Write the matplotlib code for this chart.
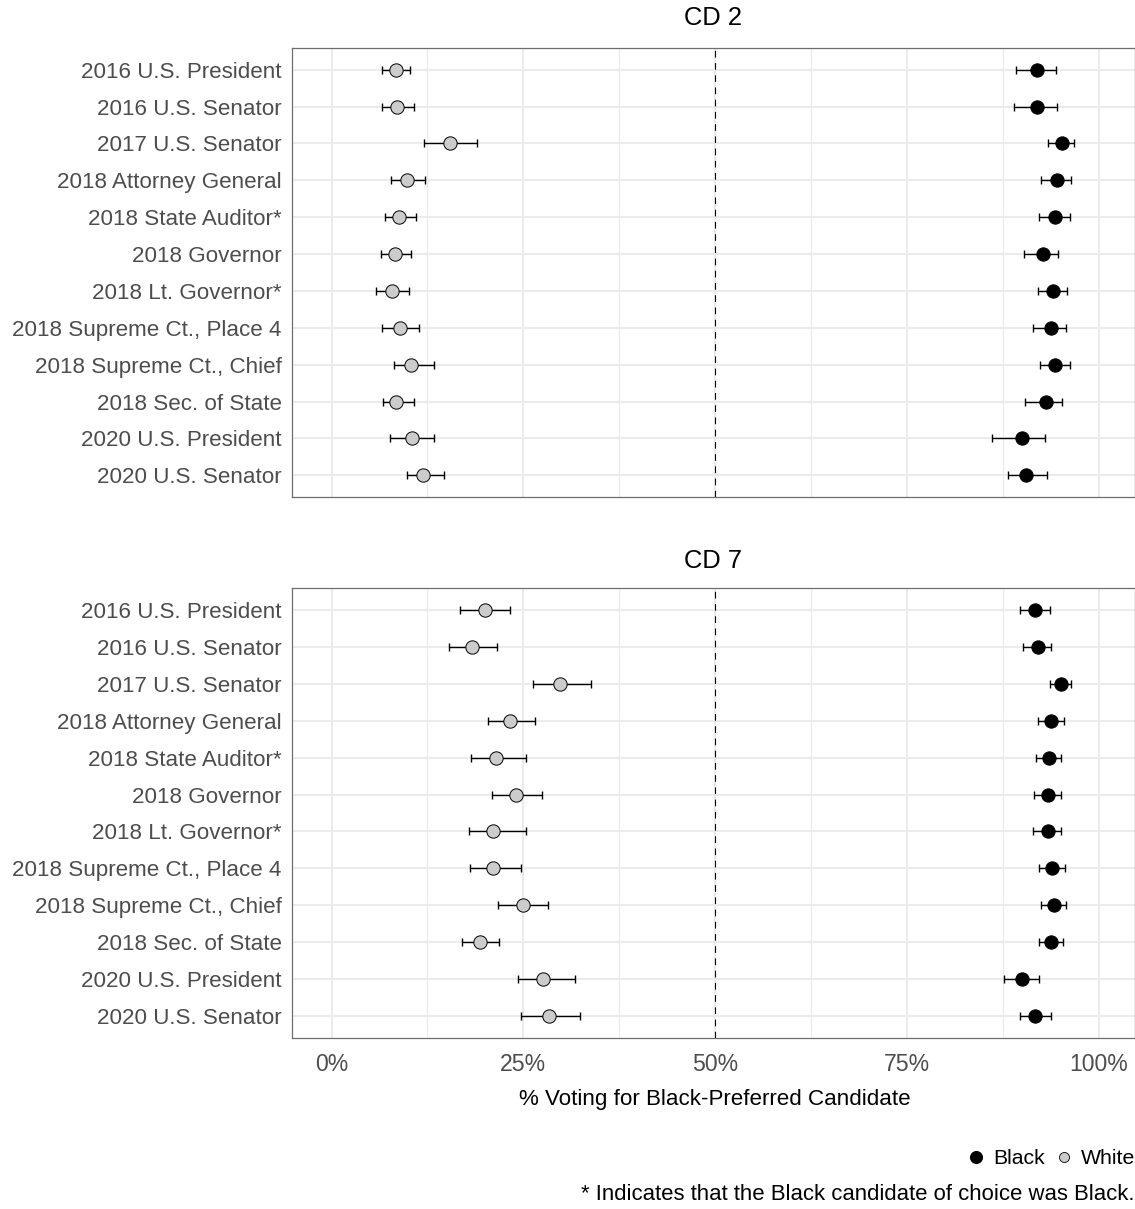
import matplotlib
matplotlib.use('Agg')
import matplotlib.pyplot as plt
from matplotlib.lines import Line2D
import numpy as np

plt.rcParams['font.family'] = ['DejaVu Sans Condensed', 'Liberation Sans', 'DejaVu Sans']

contests = ['2016 U.S. President', '2016 U.S. Senator', '2017 U.S. Senator',
            '2018 Attorney General', '2018 State Auditor*', '2018 Governor',
            '2018 Lt. Governor*', '2018 Supreme Ct., Place 4',
            '2018 Supreme Ct., Chief', '2018 Sec. of State',
            '2020 U.S. President', '2020 U.S. Senator']

# CD 2
cd2_white = [8.4, 8.5, 15.4, 9.9, 8.8, 8.3, 7.9, 8.9, 10.4, 8.45, 10.5, 11.9]
cd2_white_lo = [6.6, 6.6, 12.0, 7.75, 7.0, 6.4, 5.8, 6.6, 8.1, 6.7, 7.6, 9.9]
cd2_white_hi = [10.2, 10.7, 18.9, 12.2, 11.05, 10.4, 10.1, 11.4, 13.4, 10.75, 13.35, 14.6]
cd2_black = [91.9, 91.9, 95.2, 94.6, 94.3, 92.7, 94.0, 93.7, 94.3, 93.1, 90.0, 90.5]
cd2_black_lo = [89.2, 88.9, 93.4, 92.5, 92.2, 90.2, 92.0, 91.4, 92.3, 90.4, 86.1, 88.2]
cd2_black_hi = [94.4, 94.5, 96.8, 96.3, 96.2, 94.7, 95.9, 95.7, 96.2, 95.2, 93.0, 93.2]

# CD 7
cd7_white = [20.0, 18.3, 29.8, 23.3, 21.4, 24.1, 21.1, 21.0, 24.95, 19.35, 27.5, 28.3]
cd7_white_lo = [16.7, 15.3, 26.2, 20.4, 18.2, 20.9, 17.9, 18.0, 21.65, 17.0, 24.3, 24.65]
cd7_white_hi = [23.2, 21.5, 33.8, 26.5, 25.3, 27.4, 25.3, 24.65, 28.2, 21.8, 31.7, 32.4]
cd7_black = [91.7, 92.0, 95.0, 93.7, 93.5, 93.4, 93.4, 93.9, 94.1, 93.7, 90.0, 91.7]
cd7_black_lo = [89.7, 90.1, 93.6, 92.0, 91.75, 91.5, 91.4, 92.2, 92.4, 92.15, 87.6, 89.7]
cd7_black_hi = [93.6, 93.8, 96.35, 95.4, 95.1, 95.0, 95.05, 95.6, 95.7, 95.3, 92.15, 93.8]

panels = [
    ('CD 2', cd2_white, cd2_white_lo, cd2_white_hi, cd2_black, cd2_black_lo, cd2_black_hi),
    ('CD 7', cd7_white, cd7_white_lo, cd7_white_hi, cd7_black, cd7_black_lo, cd7_black_hi),
]

W, H = 1135, 1209
fig = plt.figure(figsize=(W / 100, H / 100), dpi=100)
renderer = fig.canvas.get_renderer()


def size_for(s, target_px, base=20):
    # font size that makes the string about target_px wide
    t = fig.text(0, 0, s, fontsize=base)
    w = t.get_window_extent(renderer).width
    t.remove()
    return base * target_px / w


ytick_fs = size_for('2018 Supreme Ct., Place 4', 269)
xtick_fs = size_for('25%', 46)
title_fs = size_for('CD 2', 58)
xlab_fs = size_for('% Voting for Black-Preferred Candidate', 390)
cap_fs = size_for('* Indicates that the Black candidate of choice was Black.', 552)
leg_fs = size_for('Black', 52)

panel_tops = [47.5, 588]
title_ys = [18, 561]
panel_h = 450
left, right = 292, 1135
grid_col = '#EBEBEB'

for (name, w, wlo, whi, b, blo, bhi), top, ty in zip(panels, panel_tops, title_ys):
    ax = fig.add_axes([left / W, 1 - (top + panel_h) / H, (right - left) / W, panel_h / H])
    y = np.arange(len(contests))

    for v in [0, 25, 50, 75, 100]:
        ax.axvline(v, color=grid_col, lw=1.5, zorder=0)
    for v in [12.5, 37.5, 62.5, 87.5]:
        ax.axvline(v, color=grid_col, lw=0.8, zorder=0)
    for yy in y:
        ax.axhline(yy, color=grid_col, lw=1.5, zorder=0)

    ax.axvline(50, color='black', lw=0.8, ls=(0, (6, 5)), zorder=1)

    w = np.array(w); b = np.array(b)
    ax.errorbar(w, y, xerr=[w - np.array(wlo), np.array(whi) - w], fmt='none',
                ecolor='black', elinewidth=1.0, capsize=3.2, capthick=1.0, zorder=2)
    ax.errorbar(b, y, xerr=[b - np.array(blo), np.array(bhi) - b], fmt='none',
                ecolor='black', elinewidth=1.0, capsize=3.2, capthick=1.0, zorder=2)
    ax.plot(w, y, 'o', ms=9.6, mfc='#CCCCCC', mec='black', mew=0.7, zorder=3)
    ax.plot(b, y, 'o', ms=9.6, mfc='black', mec='black', mew=0.7, zorder=3)

    ax.set_xlim(-5.15, 104.7)
    ax.set_ylim(len(contests) - 0.4, -0.6)
    ax.set_yticks(y)
    ax.set_yticklabels(contests)
    ax.set_xticks([0, 25, 50, 75, 100])
    ax.set_xticklabels(['0%', '25%', '50%', '75%', '100%'])
    ax.tick_params(axis='y', length=0, pad=7.5, labelsize=ytick_fs, labelcolor='#4D4D4D')
    ax.tick_params(axis='x', length=0, pad=11, labelsize=xtick_fs, labelcolor='#4D4D4D')
    if top != panel_tops[-1]:
        ax.tick_params(axis='x', labelbottom=False)
    for s in ax.spines.values():
        s.set_color('#6E6E6E')
        s.set_linewidth(0.9)

    fig.text(713.5 / W, 1 - ty / H, name, ha='center', va='center', fontsize=title_fs)

fig.text(715 / W, 1 - 1099 / H, '% Voting for Black-Preferred Candidate',
         ha='center', va='center', fontsize=xlab_fs)

handles = [Line2D([], [], ls='none', marker='o', ms=8.4, mfc='black', mec='black'),
           Line2D([], [], ls='none', marker='o', ms=7.2, mfc='#CCCCCC', mec='black', mew=0.6)]
fig.legend(handles, ['Black', 'White'], loc='center right', ncol=2, frameon=False,
           bbox_to_anchor=(1.0, 1 - 1159 / H), borderaxespad=0, borderpad=0,
           handlelength=0.8, handletextpad=0.4, columnspacing=0.5, fontsize=leg_fs)

fig.text(1134 / W, 1 - 1195 / H, '* Indicates that the Black candidate of choice was Black.',
         ha='right', va='center', fontsize=cap_fs)

fig.savefig('out.png', dpi=100)
